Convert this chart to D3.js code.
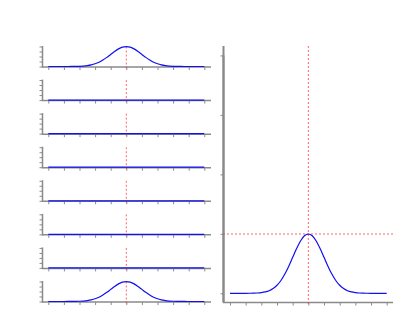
<!DOCTYPE html>
<html>
<head>
<meta charset="utf-8">
<script src="https://cdn.jsdelivr.net/npm/d3@7"></script>
<style>
  body { margin: 0; background: #fff; }
  .axis path, .axis line { stroke: #8a8a8a; }
  .axis text { display: none; }
</style>
</head>
<body>
<div id="chart"></div>
<script>
// x positions sampled along each slice
const xValues = [-5, -4.75, -4.5, -4.25, -4, -3.75, -3.5, -3.25, -3, -2.75, -2.5, -2.25, -2, -1.75, -1.5, -1.25, -1, -0.75, -0.5, -0.25,
  0, 0.25, 0.5, 0.75, 1, 1.25, 1.5, 1.75, 2, 2.25, 2.5, 2.75, 3, 3.25, 3.5, 3.75, 4, 4.25, 4.5, 4.75, 5];
// density
const density = [0, 0, 0, 0, 0.0001, 0.0004, 0.0009, 0.002, 0.0044, 0.0091, 0.0175, 0.0317, 0.054, 0.0863, 0.1295, 0.1826, 0.242, 0.3011, 0.3521, 0.3867,
  0.3989, 0.3867, 0.3521, 0.3011, 0.242, 0.1826, 0.1295, 0.0863, 0.054, 0.0317, 0.0175, 0.0091, 0.0044, 0.002, 0.0009, 0.0004, 0.0001, 0, 0, 0, 0];
// which of the 8 slice panels carry the curve (others sit flat at zero)
const panelWeight = [1, 0, 0, 0, 0, 0, 0, 1];
const xTicks = [-5, -4, -3, -2, -1, 0, 1, 2, 3, 4, 5];
const smallYTicks = [0, 0.1, 0.2, 0.3, 0.4];
const bigYTicks = [0, 0.4, 0.8, 1.2, 1.6];
const marker = 0;

const width = 400, height = 334;
const svg = d3.select("#chart").append("svg")
    .attr("width", width)
    .attr("height", height);

// small panels on the left
const xs = d3.scaleLinear().domain([-5, 5]).range([48.3, 204.3]);
const panelTop = 46.5, panelStep = 33.57, panelH = 20;

panelWeight.forEach((w, i) => {
    const base = panelTop + panelH + i * panelStep;
    const y = d3.scaleLinear().domain([0, 0.4]).range([base, base - panelH]);
    const g = svg.append("g");

    // x axis, line extended past the data range
    const ax = g.append("g")
        .attr("class", "axis")
        .attr("transform", `translate(0,${base + 0.5})`)
        .call(d3.axisBottom(xs).tickValues(xTicks).tickSize(3).tickSizeOuter(0));
    ax.select(".domain").attr("d", "M42,0H211").attr("stroke-width", 1.5);

    const ay = g.append("g")
        .attr("class", "axis")
        .attr("transform", "translate(42.5,0)")
        .call(d3.axisLeft(y).tickValues(smallYTicks).tickSize(3).tickSizeOuter(0));
    ay.select(".domain").attr("d", `M0,${base - panelH - 0.5}V${base + 1}`).attr("stroke-width", 1.5);

    g.append("line")
        .attr("x1", xs(marker)).attr("x2", xs(marker))
        .attr("y1", base - panelH).attr("y2", base + 3)
        .attr("stroke", "#ff4040")
        .attr("stroke-width", 0.8)
        .attr("stroke-dasharray", "2,2");

    g.append("path")
        .datum(xValues.map((x, j) => [x, density[j] * w]))
        .attr("fill", "none")
        .attr("stroke", "#1010f0")
        .attr("stroke-width", 1.2)
        .attr("d", d3.line().x(d => xs(d[0])).y(d => y(d[1])).curve(d3.curveMonotoneX));
});

// big panel on the right
const xr = d3.scaleLinear().domain([-5, 5]).range([230, 386.7]);
const yr = d3.scaleLinear().domain([0, 1.66]).range([293.3, 46.5]);
const bottom = 302.5;

const bx = svg.append("g")
    .attr("class", "axis")
    .attr("transform", `translate(0,${bottom})`)
    .call(d3.axisBottom(xr).tickValues(xTicks).tickSize(3).tickSizeOuter(0));
bx.select(".domain").attr("d", "M223,0H393").attr("stroke", "#bbb").attr("stroke-width", 1.5);

const by = svg.append("g")
    .attr("class", "axis")
    .attr("transform", "translate(223.5,0)")
    .call(d3.axisLeft(yr).tickValues(bigYTicks).tickSize(3).tickSizeOuter(0));
by.select(".domain").attr("d", `M0,46V${bottom}`).attr("stroke", "#ccc").attr("stroke-width", 2);
by.append("line")
    .attr("y1", yr(1.6)).attr("y2", bottom)
    .attr("stroke", "#8a8a8a").attr("stroke-width", 2);

svg.append("line")
    .attr("x1", xr(marker)).attr("x2", xr(marker))
    .attr("y1", 46).attr("y2", bottom + 3)
    .attr("stroke", "#ff4040")
    .attr("stroke-width", 0.8)
    .attr("stroke-dasharray", "2,2");

svg.append("line")
    .attr("x1", 223).attr("x2", 393)
    .attr("y1", yr(d3.max(density))).attr("y2", yr(d3.max(density)))
    .attr("stroke", "#ff4040")
    .attr("stroke-width", 0.8)
    .attr("stroke-dasharray", "2,2");

svg.append("path")
    .datum(xValues.map((x, j) => [x, density[j]]))
    .attr("fill", "none")
    .attr("stroke", "#1010f0")
    .attr("stroke-width", 1.2)
    .attr("d", d3.line().x(d => xr(d[0])).y(d => yr(d[1])).curve(d3.curveMonotoneX));
</script>
</body>
</html>
